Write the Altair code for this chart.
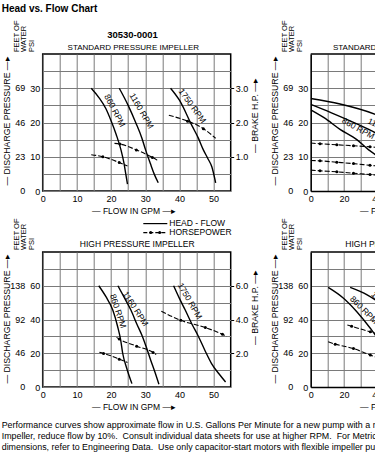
import altair as alt
import pandas as pd

FONT = "Liberation Sans"

# ---------------- data ----------------
# Standard pressure impeller (left, top): flow GPM vs PSI, brake HP
STD_HEAD = {
    "860": [(14.2, 30), (16.5, 27.2), (18.5, 24.0), (20.0, 20.5), (21.5, 16.5), (22.9, 12.0), (23.8, 8.0), (24.3, 5.0), (24.8, 2.0)],
    "1160": [(22.4, 30), (25.0, 25.0), (27.2, 20.0), (29.0, 15.5), (30.1, 12.0), (31.5, 8.0), (32.6, 5.0), (33.8, 2.4)],
    "1750": [(37.4, 30), (40.0, 26.5), (43.7, 19.0), (45.5, 15.5), (47.0, 12.0), (48.3, 9.5), (49.5, 7.0), (50.6, 2.4)],
}
STD_HP = {
    "860": [(14.2, 1.06), (17.6, 1.00), (22.4, 0.83), (24.8, 0.73)],
    "1160": [(21.0, 1.39), (22.6, 1.37), (27.4, 1.20), (32.1, 0.98), (33.5, 0.90)],
    "1750": [(36.9, 2.21), (42.4, 2.04), (47.0, 1.82), (50.6, 1.54)],
}
STD_HP_DOTS = [(17.6, 1.00), (22.4, 0.83), (22.6, 1.37), (27.4, 1.20), (32.1, 0.98), (42.4, 2.04), (47.0, 1.82)]
STD_LABELS = [("860 RPM", 21.15, 23.5, 62), ("1160 RPM", 28.96, 23.4, 60), ("1750 RPM", 43.8, 24.9, 54)]

# High pressure impeller (left, bottom)
HI_HEAD = {
    "860": [(16.4, 60), (18.5, 53.5), (20.5, 45.6), (21.9, 36), (22.8, 28), (23.4, 20), (24.6, 11), (26.1, 2)],
    "1160": [(22.0, 60), (24.0, 52.5), (25.8, 45.6), (27.5, 37.5), (29.2, 29.8), (30.5, 22.5), (31.6, 15.9), (32.8, 9), (34.0, 1.6)],
    "1750": [(38.3, 60), (40.0, 52.5), (41.7, 45.6), (43.6, 37.5), (45.6, 29.8), (47.5, 21.5), (49.4, 13.9), (51.5, 8), (53.5, 3)],
}
HI_HP = {
    "860": [(16.6, 2.05), (17.8, 1.99), (22.4, 1.65), (24.8, 1.45)],
    "1160": [(21.6, 2.94), (22.4, 2.84), (27.5, 2.42), (32.3, 2.05), (33.2, 1.93)],
    "1750": [(34.7, 4.49), (40.4, 3.95), (47.6, 3.52), (52.6, 3.12), (53.8, 3.00)],
}
HI_HP_DOTS = [(17.8, 1.99), (22.4, 1.65), (22.4, 2.84), (27.5, 2.42), (32.3, 2.05), (40.4, 3.95), (47.6, 3.52), (52.6, 3.12)]
HI_LABELS = [("860 RPM", 22.1, 45, 72), ("1160 RPM", 27.2, 46.4, 57), ("1750 RPM", 43.1, 51, 60)]

# Second model (right column, partly outside the page)
R_STD_HEAD = {
    "a": [(0, 27.0), (17.6, 25.4), (38.8, 22.4), (46, 21.0)],
    "b": [(0, 25.3), (12.1, 22.9), (27.7, 19.6), (38.8, 17.0), (46, 15.0)],
    "c": [(0, 23.7), (8.0, 21.4), (17.6, 18.0), (27.7, 15.0), (34.8, 12.0), (38.8, 10.6), (43, 8.5)],
}
R_STD_HP = {
    "a": [(0, 14.0), (5.6, 13.8), (15.7, 13.5), (25.7, 13.2), (35.6, 12.9), (46, 12.5)],
    "b": [(0, 8.9), (5.6, 8.8), (15.7, 8.4), (25.7, 8.0), (35.6, 7.5), (46, 7.0)],
    "c": [(0, 6.1), (5.6, 5.9), (15.7, 5.6), (25.7, 5.2), (35.6, 4.8), (46, 4.4)],
}
R_STD_HP_DOTS = [(5.6, 13.8), (15.7, 13.5), (25.7, 13.2), (35.6, 12.9),
                 (5.6, 8.8), (15.7, 8.4), (25.7, 8.0), (35.6, 7.5),
                 (5.6, 5.9), (15.7, 5.6), (25.7, 5.2), (35.6, 4.8)]
R_STD_LABELS = [("860 RPM", 28.6, 18.3, 29), ("1160 RPM", 45.3, 18.2, 25)]

R_HI_HEAD = {
    "p": [(10.5, 59), (19.7, 52.6), (27.7, 44.6), (35.8, 34.8), (38.8, 30.8), (43, 24)],
    "q": [(23.7, 59), (33.9, 54.6), (38.8, 51.6), (46, 46)],
}
R_HI_HP = {
    "k1": [(22.0, 36.7), (24.6, 36.0), (35.8, 32.7), (41, 31.5)],
    "k2": [(10.5, 26.8), (14.7, 25.4), (25.7, 22.8), (35.8, 18.9), (38.8, 17.9), (43, 16.5)],
}
R_HI_HP_DOTS = [(24.6, 36.0), (35.8, 32.7), (14.7, 25.4), (25.7, 22.8), (35.8, 18.9)]
R_HI_LABELS = [("860 RPM", 32.1, 45.7, 45), ("1160 RPM", 45.7, 47.5, 45)]

STD_FEET = [0, 23, 46, 69]
STD_FEET_PSI = [0, 10, 20, 30]
HI_FEET = [0, 46, 92, 138]
HI_FEET_PSI = [0, 20, 40, 60]

TITLE_MAIN = "Head vs. Flow Chart"
MODEL = "30530-0001"
T_STD = "STANDARD PRESSURE IMPELLER"
T_HI = "HIGH PRESSURE IMPELLER"
LEGEND = ["HEAD - FLOW", "HORSEPOWER"]
FOOTER = [
    "Performance curves show approximate flow in U.S. Gallons Per Minute for a new pump with a neoprene impeller. For Nitrile",
    "Impeller, reduce flow by 10%.\u00a0 Consult individual data sheets for use at higher RPM.\u00a0 For Metric data and",
    "dimensions, refer to Engineering Data.\u00a0 Use only capacitor-start motors with flexible impeller pumps.",
]
ARROW = "\u2014\u25b8"
Y_TITLE = "\u2014 DISCHARGE PRESSURE " + ARROW
HP_TITLE = "\u2014 BRAKE H.P. " + ARROW
X_TITLE = "\u2014 FLOW IN GPM " + ARROW


# ---------------- helpers ----------------
def line_frame(curves, ycol):
    rows = []
    for name, pts in curves.items():
        for i, (x, y) in enumerate(pts):
            rows.append({"curve": name, "ord": i, "x": x, ycol: y})
    return pd.DataFrame(rows)


def pts_frame(pts, ycol):
    return pd.DataFrame({"x": [p[0] for p in pts], ycol: [p[1] for p in pts]})


def note(text, x, y, size=8.5, bold=False, align="center", angle=0, baseline="alphabetic"):
    kw = dict(align=align, baseline=baseline, font=FONT, fontSize=size, color="black")
    if bold:
        kw["fontWeight"] = "bold"
    if angle:
        kw["angle"] = angle
    return alt.Chart(pd.DataFrame({"t": [text]})).mark_text(**kw).encode(
        x=alt.value(x), y=alt.value(y), text="t:N")


def hrule(x1, x2, y, dash=None):
    kw = dict(color="black", strokeWidth=1.2)
    if dash:
        kw["strokeDash"] = dash
    return alt.Chart(pd.DataFrame({"a": [0]})).mark_rule(**kw).encode(
        x=alt.value(x1), x2=alt.value(x2), y=alt.value(y))


def dot(x, y):
    return alt.Chart(pd.DataFrame({"a": [0]})).mark_point(
        filled=True, color="black", size=9, opacity=1).encode(x=alt.value(x), y=alt.value(y))


def panel(head, hp, dots, labels, feet, feet_psi, *, x_max, y_max, hp_max, width, height,
          x_grid, x_step, y_grid, y_step, hp_ticks, framed, extras, extra_x=None):
    xs = alt.Scale(domain=[0, x_max], nice=False, zero=False)
    ys = alt.Scale(domain=[0, y_max], nice=False, zero=False)
    hs = alt.Scale(domain=[0, hp_max], nice=False, zero=False)
    x_axis = alt.Axis(values=x_grid, labelExpr=f"datum.value % {x_step} === 0 ? datum.label : ''",
                      grid=True, ticks=False, domain=not framed, labelPadding=3.5, title=None,
                      labelFlush=False, labelOverlap=False)
    y_axis = alt.Axis(values=y_grid, labelExpr=f"datum.value % {y_step} === 0 ? datum.label : ''",
                      grid=True, ticks=False, domain=not framed, labelPadding=3, title=None,
                      labelFlush=False, labelOverlap=False)

    def X():
        return alt.X("x:Q", scale=xs, axis=x_axis)

    layers = [
        alt.Chart(line_frame(head, "psi")).mark_line(
            color="black", strokeWidth=1.4, clip=True, interpolate="monotone").encode(
            x=X(), y=alt.Y("psi:Q", scale=ys, axis=y_axis), detail="curve:N", order="ord:Q"),
    ]
    if hp_ticks:
        hp_axis = alt.Axis(orient="right", values=hp_ticks, format=".1f", grid=False, ticks=True,
                           tickSize=3, tickColor="black", domain=False, labelPadding=1.5,
                           title=None, labelFlush=False, labelOverlap=False)
    else:
        hp_axis = None
    layers.append(alt.Chart(line_frame(hp, "hp")).mark_line(
        color="black", strokeWidth=1.1, strokeDash=[5, 2], clip=True, interpolate="monotone").encode(
        x=X(), y=alt.Y("hp:Q", scale=hs, axis=hp_axis), detail="curve:N", order="ord:Q"))
    layers.append(alt.Chart(pts_frame(dots, "hp")).mark_point(
        filled=True, color="black", size=9, opacity=1, clip=True).encode(
        x=X(), y=alt.Y("hp:Q", scale=hs, axis=None)))
    lab = pd.DataFrame(labels, columns=["label", "x", "psi", "ang"])
    layers.append(alt.Chart(lab).mark_text(
        font=FONT, fontSize=8.5, color="black", baseline="middle").encode(
        x=X(), y=alt.Y("psi:Q", scale=ys, axis=None), text="label:N",
        angle=alt.Angle("ang:Q", scale=None)))
    fdf = pd.DataFrame({"feet": [str(v) for v in feet], "psi": feet_psi})
    layers.append(alt.Chart(fdf).mark_text(
        font=FONT, fontSize=9, color="black", align="right", baseline="middle").encode(
        x=alt.value(-17.5), y=alt.Y("psi:Q", scale=ys, axis=None), text="feet:N"))
    if extra_x:
        edf = pd.DataFrame({"x": extra_x, "t": [str(v) for v in extra_x]})
        layers.append(alt.Chart(edf).mark_text(
            font=FONT, fontSize=9, color="black", baseline="top").encode(
            x=X(), y=alt.value(height + 3.5), text="t:N"))
    if not framed:
        layers.append(alt.Chart(pd.DataFrame({"a": [0]})).mark_rule(
            color="black", strokeWidth=1.5).encode(
            x=alt.value(0), x2=alt.value(width), y=alt.value(0)))
    layers.extend(extras)
    ch = alt.layer(*layers).resolve_scale(y="independent").properties(width=width, height=height)
    if not framed:
        ch = ch.properties(view=alt.ViewBackground(strokeOpacity=0))
    return ch


def side_labels(y_center):
    return [
        note("FEET OF", -26.2, -2, size=7.5, align="left", angle=270, baseline="middle"),
        note("WATER", -18.4, -2, size=7.5, align="left", angle=270, baseline="middle"),
        note("PSI", -10.9, -2, size=7.5, align="left", angle=270, baseline="middle"),
        note(Y_TITLE, -36, y_center, size=8.7, angle=270, baseline="middle"),
    ]


LW, RW = 188, 64.3
TH, BH = 137, 135

tl = panel(STD_HEAD, STD_HP, STD_HP_DOTS, STD_LABELS, STD_FEET, STD_FEET_PSI,
           x_max=55, y_max=40, hp_max=4, width=LW, height=TH,
           x_grid=list(range(0, 55, 5)), x_step=10, y_grid=list(range(0, 40, 5)), y_step=10,
           hp_ticks=[1, 2, 3], framed=True,
           extras=[note(TITLE_MAIN, -41, -42.3, size=10, bold=True, align="left"),
                   note(MODEL, 89.8, -16.3, size=9.5, bold=True),
                   note(T_STD, 90.6, -4, size=8),
                   note(HP_TITLE, LW + 24, 61.5, size=8.7, angle=270, baseline="middle"),
                   note(X_TITLE, 91.3, TH + 22.6)] + side_labels(67))

tr = panel(R_STD_HEAD, R_STD_HP, R_STD_HP_DOTS, R_STD_LABELS, STD_FEET, STD_FEET_PSI,
           x_max=RW / 1.665, y_max=40, hp_max=40, width=RW, height=TH,
           x_grid=[0, 10, 20, 30], x_step=20, y_grid=list(range(0, 40, 5)), y_step=10,
           hp_ticks=None, framed=False, extra_x=[40],
           extras=[note(T_STD, 88, -4, size=8),
                   note(X_TITLE, 91.3, TH + 22.6)] + side_labels(67))

bl = panel(HI_HEAD, HI_HP, HI_HP_DOTS, HI_LABELS, HI_FEET, HI_FEET_PSI,
           x_max=55, y_max=80, hp_max=8, width=LW, height=BH,
           x_grid=list(range(0, 55, 5)), x_step=10, y_grid=list(range(0, 80, 10)), y_step=20,
           hp_ticks=[2, 4, 6], framed=True,
           extras=[note(T_HI, 94.5, -5, size=8.5),
                   hrule(100.6, 124.6, -28.4),
                   hrule(100.6, 124.6, -19.4, dash=[4, 2]),
                   dot(108, -19.4), dot(117, -19.4),
                   note(LEGEND[0], 126.6, -25.7, align="left"),
                   note(LEGEND[1], 126.6, -16.7, align="left"),
                   note(HP_TITLE, LW + 24, 55.5, size=8.7, angle=270, baseline="middle"),
                   note(X_TITLE, 91.3, BH + 22.8),
                   note(FOOTER[0], -41, BH + 41.3, size=8.9, align="left"),
                   note(FOOTER[1], -41, BH + 52.3, size=8.9, align="left"),
                   note(FOOTER[2], -41, BH + 63.3, size=8.9, align="left")] + side_labels(67))

br = panel(R_HI_HEAD, R_HI_HP, R_HI_HP_DOTS, R_HI_LABELS, HI_FEET, HI_FEET_PSI,
           x_max=RW / 1.665, y_max=80, hp_max=80, width=RW, height=BH,
           x_grid=[0, 10, 20, 30], x_step=20, y_grid=list(range(0, 80, 10)), y_step=20,
           hp_ticks=None, framed=False, extra_x=[40],
           extras=[note(T_HI, 92, -5, size=8.5),
                   note(X_TITLE, 91.3, BH + 22.8)] + side_labels(67))

chart = alt.concat(tl, tr, bl, br, columns=2, spacing={"row": 61, "column": 80}, bounds="flush").properties(
    padding={"left": 42.7, "top": 54, "right": 375 - 42.7, "bottom": 457 - 54},
    autosize=alt.AutoSizeParams(type="none"),
    background="white",
).configure_axis(
    labelFont=FONT, labelFontSize=9, labelColor="black",
    gridColor="#7a7a7a", gridWidth=1, domainColor="black", domainWidth=1.5,
).configure_view(stroke="black", strokeWidth=1.5)

chart.save("out.html", embed_options={"renderer": "svg", "actions": False})
